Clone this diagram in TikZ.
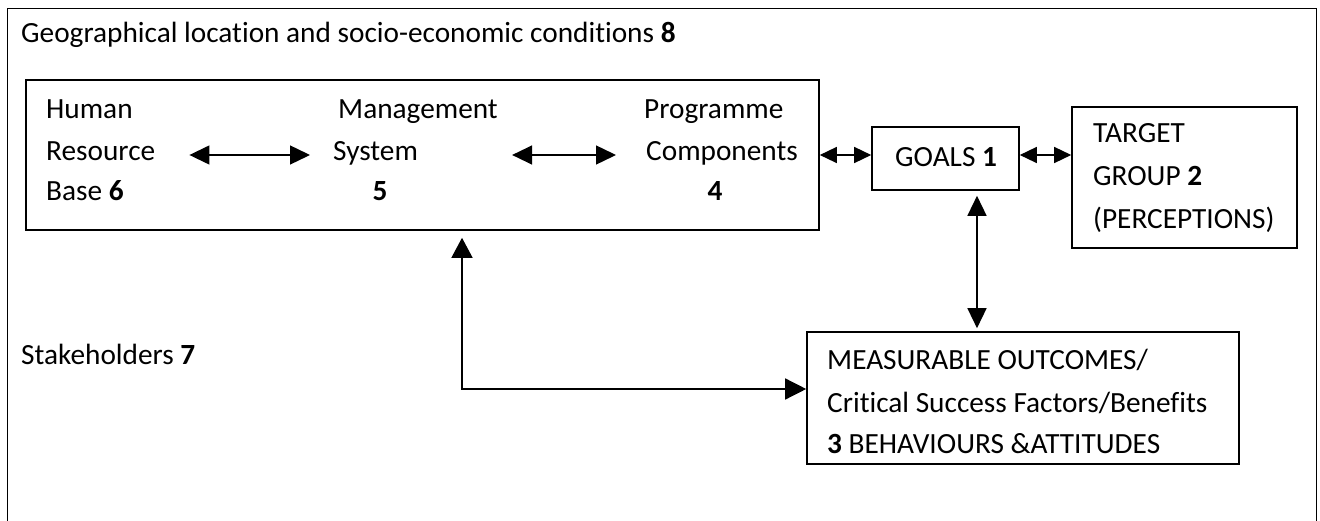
\documentclass[tikz,border=0pt]{standalone}
\usepackage{fontspec}
\setmainfont[Ligatures=NoCommon]{Carlito}
\usetikzlibrary{arrows.meta,calc}
\begin{document}
\begin{tikzpicture}[x=1pt,y=-1pt,
  every node/.style={font=\fontsize{29.3}{35}\selectfont, inner sep=0pt},
  txt/.style={anchor=base west},
  num/.style={anchor=base, font=\fontsize{29.3}{35}\selectfont\bfseries},
  box/.style={draw, line width=1.6pt, inner sep=0pt},
  link/.style={line width=1.4pt,
    {Triangle[length=20pt,width=19pt]}-{Triangle[length=20pt,width=19pt]}},
  shortlink/.style={line width=1.4pt,
    {Triangle[length=17pt,width=16pt]}-{Triangle[length=17pt,width=16pt]}},
  elbow/.style={line width=1.4pt,
    {Triangle[length=20pt,width=21pt]}-{Triangle[length=21pt,width=21pt]}}]
\useasboundingbox (0,0) rectangle (1320,521);
\clip (0,0) rectangle (1320,521);

% outer frame (continues below the page edge)
\draw[line width=1.6pt] (7.5,540) -- (7.5,8.5) -- (1316.5,8.5) -- (1316.5,540);
\node[txt] (geo) at (21,43) {Geographical location and socio-economic conditions \textbf{8}};
\node[txt] (stake) at (21,364) {Stakeholders \textbf{7}};

% programme box
\node[box, minimum width=793pt, minimum height=150pt] (main) at (422.5,155) {};
\node[txt] (hum) at (46,119) {Human};
\node[txt] (res) at (46,161) {Resource};
\node[txt] (bas) at (46,201) {Base \textbf{6}};
\node[txt] (man) at (338,119) {Management};
\node[txt] (sys) at (333,161) {System};
\node[num] (five) at (380,201) {5};
\node[txt] (pro) at (644,119) {Programme};
\node[txt] (com) at (646,161) {Components};
\node[num] (four) at (715,201) {4};

% goals, target group, outcomes
\node[box, minimum width=147pt, minimum height=63pt] (goals) at (945.5,158.5) {};
\node[txt] (goalstxt) at (895,167) {GOALS \textbf{1}};

\node[box, minimum width=225pt, minimum height=141pt] (target) at (1184.5,177.5) {};
\node[txt] (tg1) at (1093,143) {TARGET};
\node[txt] (tg2) at (1093,186) {GROUP \textbf{2}};
\node[txt] (tg3) at (1093,229) {(PERCEPTIONS)};

\node[box, minimum width=432pt, minimum height=132pt] (meas) at (1023,398) {};
\node[txt] (m1) at (827,370) {MEASURABLE OUTCOMES/};
\node[txt] (m2) at (827,412) {Critical Success Factors/Benefits};
\node[txt] (m3) at (827,453) {\textbf{3} BEHAVIOURS \&ATTITUDES};

% connectors
\draw[link] ($(res.east |- main.center)+(34,0)$) -- ($(sys.west |- main.center)+(-23,0)$);
\draw[link] ($(sys.east |- main.center)+(94,0)$) -- ($(com.west |- main.center)+(-30,0)$);
\draw[shortlink] (main.east) -- (main.east -| goals.west);
\draw[shortlink] (main.east -| goals.east) -- (main.east -| target.west);

\coordinate (gx) at (977,0);
\draw[link] ($(gx |- goals.south)+(0,5)$) -- ($(gx |- meas.north)+(0,-3)$);

\coordinate (mx) at (462,389);
\draw[elbow] ($(mx |- main.south)+(0,7)$) -- (mx) -- (mx -| meas.west);
\end{tikzpicture}
\end{document}
